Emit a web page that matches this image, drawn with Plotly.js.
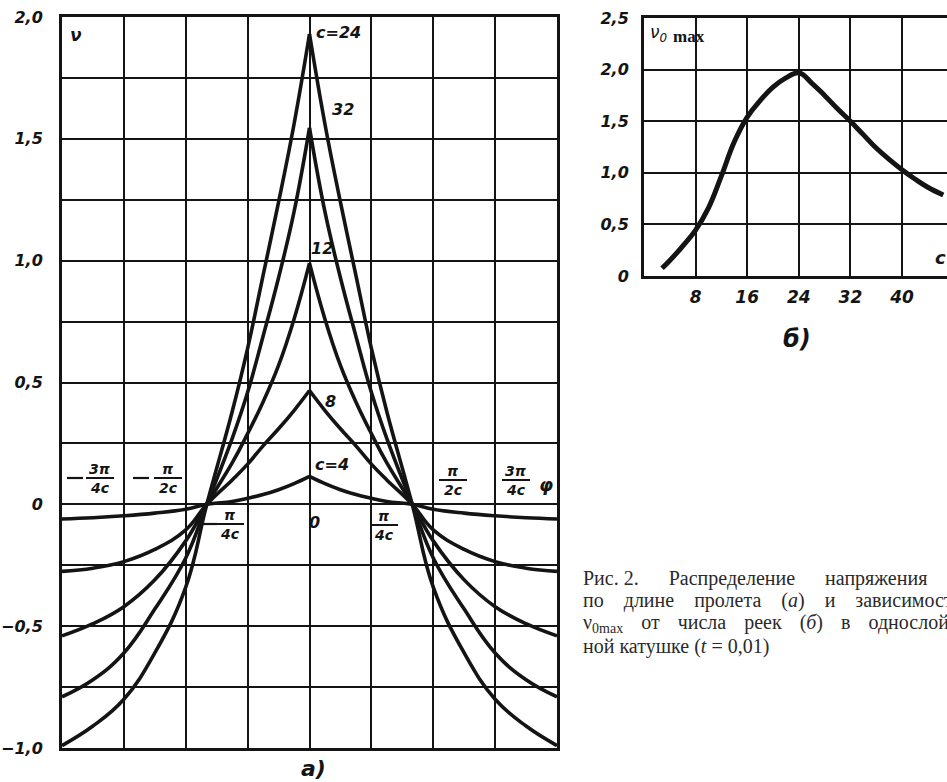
<!DOCTYPE html>
<html>
<head>
<meta charset="utf-8">
<script src="https://cdn.plot.ly/plotly-3.0.1.min.js"></script>
<style>
  html, body { margin: 0; padding: 0; background: #fff; }
  #chart { width: 947px; height: 782px; }
</style>
</head>
<body>
<div id="chart"></div>
<script>
// ---- Panel (а): voltage v along the span, φ measured in grid columns ----
const phi = [-4, -3.5, -3, -2.5, -2, -1.66, -1.25, -1, -0.75, -0.5, -0.25, 0,
             0.25, 0.5, 0.75, 1, 1.25, 1.66, 2, 2.5, 3, 3.5, 4];

const vC4  = [-0.06, -0.055, -0.047, -0.036, -0.02, 0, 0.012, 0.025, 0.04, 0.06, 0.085, 0.115,
              0.085, 0.06, 0.04, 0.025, 0.012, 0, -0.02, -0.036, -0.047, -0.055, -0.06];
const vC8  = [-0.275, -0.262, -0.235, -0.185, -0.105, 0, 0.10, 0.165, 0.24, 0.31, 0.385, 0.467,
              0.385, 0.31, 0.24, 0.165, 0.10, 0, -0.105, -0.185, -0.235, -0.262, -0.275];
const vC12 = [-0.54, -0.49, -0.42, -0.31, -0.15, 0, 0.17, 0.29, 0.42, 0.57, 0.76, 0.99,
              0.76, 0.57, 0.42, 0.29, 0.17, 0, -0.15, -0.31, -0.42, -0.49, -0.54];
const vC24 = [-0.99, -0.91, -0.8, -0.61, -0.34, 0, 0.38, 0.64, 0.94, 1.24, 1.56, 1.93,
              1.56, 1.24, 0.94, 0.64, 0.38, 0, -0.34, -0.61, -0.8, -0.91, -0.99];
const vC32 = [-0.79, -0.72, -0.61, -0.43, -0.22, 0, 0.27, 0.46, 0.69, 0.93, 1.2, 1.545,
              1.2, 0.93, 0.69, 0.46, 0.27, 0, -0.22, -0.43, -0.61, -0.72, -0.79];

const curvesA = [vC4, vC8, vC12, vC24, vC32];

const yTickValsA = [-1, -0.75, -0.5, -0.25, 0, 0.25, 0.5, 0.75, 1, 1.25, 1.5, 1.75, 2];
const yTickTextA = ['−1,0', '', '−0,5', '', '0', '', '0,5', '', '1,0', '', '1,5', '', '2,0'];
const xTickValsA = [-4, -3, -2, -1, 0, 1, 2, 3, 4];

// ---- Panel (б): peak voltage against the number of slats c ----
const cSlats = [2.8, 4, 6, 8, 10, 12, 14, 16, 18, 20, 22, 24, 26, 28, 30, 32, 34, 36, 38, 40, 42, 44, 46.4];
const v0max  = [0.075, 0.15, 0.29, 0.445, 0.66, 0.97, 1.3, 1.54, 1.7, 1.83, 1.92, 1.97,
                1.87, 1.75, 1.62, 1.5, 1.37, 1.24, 1.13, 1.03, 0.94, 0.86, 0.785];

const xTickValsB = [0, 8, 16, 24, 32, 40];
const xTickTextB = ['', '8', '16', '24', '32', '40'];
const yTickValsB = [0, 0.5, 1, 1.5, 2, 2.5];
const yTickTextB = ['0', '0,5', '1,0', '1,5', '2,0', '2,5'];

// ---- page geometry helpers (pixels -> paper fractions) ----
const W = 947, H = 782;
const px = x => x / W;
const py = y => 1 - y / H;

const INK = '#141414';
const handFont = { family: 'DejaVu Sans', size: 16, color: INK, style: 'italic', weight: 'bold' };

const traces = [];
curvesA.forEach(v => {
  const mid = phi.indexOf(0);
  // each half is drawn separately so the peak keeps its sharp corner
  traces.push({ x: phi.slice(0, mid + 1), y: v.slice(0, mid + 1), xaxis: 'x', yaxis: 'y',
    mode: 'lines', line: { color: INK, width: 3.6, shape: 'spline', smoothing: 1.2 }, hoverinfo: 'skip' });
  traces.push({ x: phi.slice(mid), y: v.slice(mid), xaxis: 'x', yaxis: 'y',
    mode: 'lines', line: { color: INK, width: 3.6, shape: 'spline', smoothing: 1.2 }, hoverinfo: 'skip' });
});
traces.push({ x: cSlats, y: v0max, xaxis: 'x2', yaxis: 'y2', mode: 'lines',
  line: { color: INK, width: 5, shape: 'spline', smoothing: 1.2 }, hoverinfo: 'skip' });

const annotations = [];
const shapes = [];
function label(text, x, y, opts) {
  annotations.push(Object.assign({
    text: text, xref: 'paper', yref: 'paper', x: px(x), y: py(y),
    xanchor: 'center', yanchor: 'middle', showarrow: false, font: handFont
  }, opts || {}));
}
// fraction such as 3π / 4c, with an optional leading minus
function fraction(num, den, cx, cy, minusX) {
  label(num, cx, cy - 9, { font: Object.assign({}, handFont, { size: 14 }) });
  label(den, cx, cy + 10, { font: Object.assign({}, handFont, { size: 14 }) });
  shapes.push({ type: 'line', xref: 'paper', yref: 'paper',
    x0: px(cx - 14), x1: px(cx + 14), y0: py(cy), y1: py(cy), line: { color: INK, width: 2 } });
  if (minusX !== undefined) {
    shapes.push({ type: 'line', xref: 'paper', yref: 'paper',
      x0: px(minusX - 8), x1: px(minusX + 8), y0: py(cy), y1: py(cy), line: { color: INK, width: 2.2 } });
  }
}

// panel (а) texts
label('ν', 76, 35, { font: Object.assign({}, handFont, { size: 17 }) });
label('c=24', 338, 32);
label('32', 343, 110);
label('12', 322, 248);
label('8', 330, 401);
label('c=4', 332, 465);
label('0', 314, 522);
fraction('3π', '4c', 100, 478, 75);
fraction('π', '2c', 168, 478, 141);
fraction('π', '4c', 230, 524, 209);
fraction('π', '4c', 384, 525);
fraction('π', '2c', 453, 480);
fraction('3π', '4c', 516, 480);
label('φ', 546, 485, { font: Object.assign({}, handFont, { size: 18 }) });
label('а)', 313, 768, { font: Object.assign({}, handFont, { size: 22 }) });

// panel (б) texts
label('ν<sub>0</sub>', 648, 34, { xanchor: 'left', font: Object.assign({}, handFont, { size: 17, weight: 'normal' }) });
label('<b>max</b>', 671, 37, { xanchor: 'left', font: { family: 'Liberation Serif', size: 17, color: INK } });
label('c', 940, 257, { font: Object.assign({}, handFont, { size: 18 }) });
label('б)', 797, 339, { font: Object.assign({}, handFont, { size: 24 }) });

// figure caption (justified lines get wider word gaps)
const capFont = { family: 'Liberation Serif', size: 20, color: '#2a2a2a' };
const nb = n => '\u00a0'.repeat(n);
const caption = [
  ['Рис. 2.', 'Распределение', 'напряжения'].join(nb(6)),
  ['по', 'длине', 'пролета', '(<i>а</i>)', 'и', 'зависимость'].join(nb(4)),
  ['ν<sub>0max</sub>', 'от', 'числа', 'реек', '(<i>б</i>)', 'в', 'однослой-'].join(nb(2) + '\u2009\u2009'),
  'ной катушке (<i>t</i> = 0,01)'
];
caption.forEach((t, i) => label(t, 581, 578 + i * 22.7, { xanchor: 'left', font: capFont }));

const gridAxis = {
  showgrid: true, gridcolor: INK, gridwidth: 2, zeroline: false,
  showline: true, linecolor: INK, linewidth: 3,
  ticks: 'outside', tickcolor: 'rgba(0,0,0,0)', fixedrange: true,
  tickfont: Object.assign({}, handFont, { size: 16 })
};

const layout = {
  width: W, height: H,
  margin: { l: 0, r: 0, t: 0, b: 0 },
  paper_bgcolor: '#fff', plot_bgcolor: '#fff',
  showlegend: false,
  xaxis: Object.assign({}, gridAxis, {
    domain: [px(62), px(557)], range: [-4, 4], tickvals: xTickValsA,
    showticklabels: false, mirror: true, anchor: 'y'
  }),
  yaxis: Object.assign({}, gridAxis, {
    domain: [py(748), py(17)], range: [-1, 2], tickvals: yTickValsA, ticktext: yTickTextA,
    ticklen: 13, mirror: true, anchor: 'x'
  }),
  xaxis2: Object.assign({}, gridAxis, {
    domain: [px(644), 1], range: [0, 8 * (947 - 644) / 51.6], tickvals: xTickValsB, ticktext: xTickTextB,
    ticklen: 4, mirror: true, anchor: 'y2',
    tickfont: Object.assign({}, handFont, { size: 17 })
  }),
  yaxis2: Object.assign({}, gridAxis, {
    domain: [py(276), py(18)], range: [0, 2.5], tickvals: yTickValsB, ticktext: yTickTextB,
    ticklen: 9, mirror: false, anchor: 'x2'
  }),
  annotations: annotations,
  shapes: shapes
};

Plotly.newPlot('chart', traces, layout, { staticPlot: true, displayModeBar: false });
</script>
</body>
</html>
